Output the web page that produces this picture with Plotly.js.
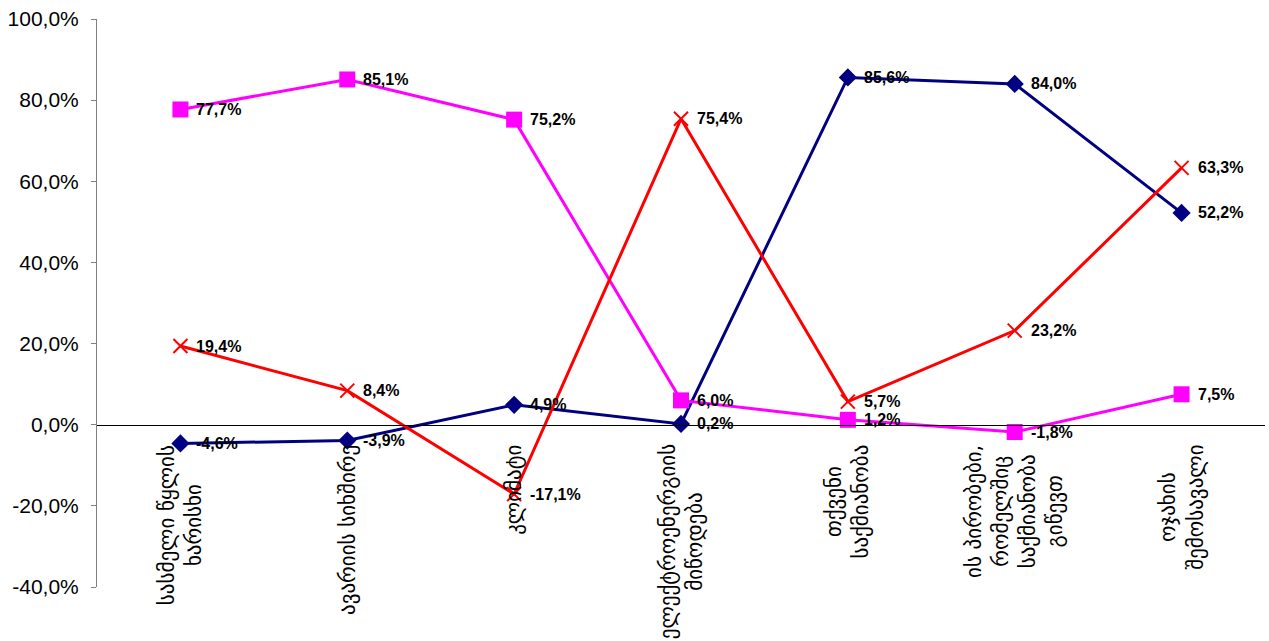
<!DOCTYPE html>
<html>
<head>
<meta charset="utf-8">
<script src="https://cdn.plot.ly/plotly-3.0.1.min.js"></script>
<style>
  html, body { margin: 0; padding: 0; background: #ffffff; }
  #chart { width: 1269px; height: 641px; }
</style>
</head>
<body>
<div id="chart"></div>
<script>
// Categories (multi-line labels split with <br>)
const categories = [
  'სასმელი წყლის<br>ხარისხი',
  'ავარიის სიხშირე',
  'კლიმატი',
  'ელექტროენერგიის<br>მიწოდება',
  'თქვენი<br>საქმიანობა',
  'ის პირობები,<br>რომელშიც<br>საქმიანობა<br>გიწევთ',
  'ოჯახის<br>შემოსავალი'
];

// Series values, in percent
const navySeries = [-4.6, -3.9, 4.9, 0.2, 85.6, 84.0, 52.2];
const magentaSeries = [77.7, 85.1, 75.2, 6.0, 1.2, -1.8, 7.5];
const redSeries = [19.4, 8.4, -17.1, 75.4, 5.7, 23.2, 63.3];

// Y axis ticks
const yTickValues = [-40, -20, 0, 20, 40, 60, 80, 100];
const yTickLabels = ['-40,0%', '-20,0%', '0,0%', '20,0%', '40,0%', '60,0%', '80,0%', '100,0%'];

const fmt = v => v.toFixed(1).replace('.', ',') + '%';
const idx = categories.map((_, i) => i);

function series(values, color, symbol, size) {
  return {
    type: 'scatter',
    mode: 'lines+markers',
    x: idx,
    y: values,
    line: { color: color, width: 3 },
    marker: { color: color, symbol: symbol, size: size,
              line: { color: color, width: symbol === 'x-thin' ? 2 : 0 } },
    hoverinfo: 'skip',
    cliponaxis: false,
    showlegend: false
  };
}

const data = [
  series(navySeries, '#000080', 'diamond', 14),
  series(magentaSeries, '#FF00FF', 'square', 16),
  series(redSeries, '#FF0000', 'x-thin', 14)
];

// Value labels to the right of every point
const valueLabels = [];
[navySeries, magentaSeries, redSeries].forEach(values => {
  values.forEach((v, i) => {
    valueLabels.push({
      x: i, y: v, xref: 'x', yref: 'y',
      text: fmt(v),
      showarrow: false,
      xanchor: 'left', yanchor: 'middle',
      xshift: 14,
      font: { family: 'Arial, Liberation Sans, sans-serif', size: 16, color: '#000000', weight: 'bold' }
    });
  });
});

// Category labels, rotated and hung below the zero line
const categoryLabels = categories.map((c, i) => ({
  x: i, y: 0, xref: 'x', yref: 'y',
  text: c,
  showarrow: false,
  textangle: -90,
  align: 'center',
  xanchor: 'center', yanchor: 'top',
  yshift: -18,
  font: { family: 'DejaVu Sans, sans-serif', size: 21, color: '#000000' }
}));

const layout = {
  width: 1269,
  height: 641,
  margin: { l: 97, r: 4, t: 19, b: 54 },
  paper_bgcolor: '#ffffff',
  plot_bgcolor: '#ffffff',
  showlegend: false,
  xaxis: {
    range: [-0.5, 6.5],
    tickvals: idx,
    showticklabels: false,
    anchor: 'free',
    position: 40 / 140,
    showline: true,
    linecolor: '#000000',
    linewidth: 1,
    showgrid: false,
    zeroline: false,
    ticks: ''
  },
  yaxis: {
    range: [-40, 100],
    tickvals: yTickValues,
    ticktext: yTickLabels,
    showline: true,
    linecolor: '#808080',
    linewidth: 1,
    ticks: 'outside',
    ticklen: 5,
    tickcolor: '#808080',
    ticklabelstandoff: 8,
    showgrid: false,
    zeroline: false,
    tickfont: { family: 'Arial, Liberation Sans, sans-serif', size: 21, color: '#000000' }
  },
  annotations: categoryLabels.concat(valueLabels)
};

Plotly.newPlot('chart', data, layout, { displayModeBar: false, staticPlot: true });
</script>
</body>
</html>
